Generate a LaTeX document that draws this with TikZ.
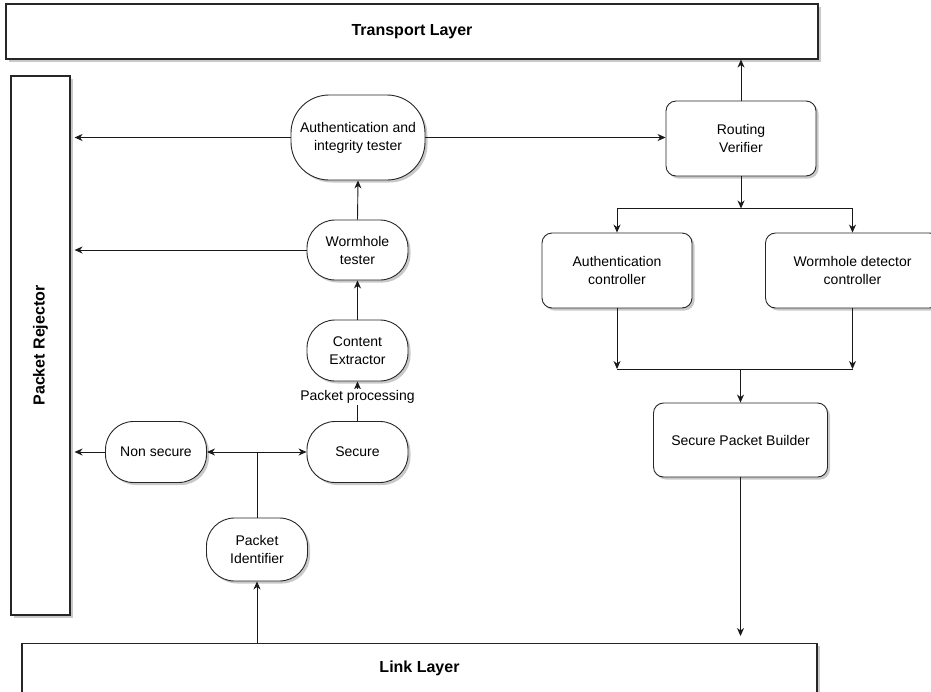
\documentclass[tikz,border=0pt]{standalone}
\usepackage{fontspec}
\setmainfont{Liberation Sans}
\usetikzlibrary{arrows.meta,shadows,calc}

\begin{document}
\begin{tikzpicture}[x=1pt,y=-1pt,
  font=\fontsize{14}{18}\selectfont,
  every node/.style={inner sep=0pt, align=center},
  dshadow/.style={drop shadow={shadow xshift=2.5pt, shadow yshift=-2.5pt, opacity=0.3, fill=black!70}},
  layer/.style={draw=black!85, line width=1.1pt, fill=white, dshadow},
  layertext/.style={font=\bfseries\fontsize{16}{19}\selectfont},
  pill/.style={draw=black!85, line width=0.9pt, fill=white, dshadow, rounded corners=#1},
  pill/.default=28pt,
  rbox/.style={draw=black!85, line width=0.9pt, fill=white, dshadow, rounded corners=10pt},
  conn/.style={draw=black!90, line width=0.9pt},
  arr/.style={conn, -{Stealth[length=8pt, width=7pt, inset=2.5pt]}},
]
\clip (0,0) rectangle (931,691);

% layers and rejector
\node[layer, minimum width=812pt, minimum height=55pt] (tl) at (412,31.5) {};
\node[layertext] (tltext) at (tl.center) {Transport Layer};
\node[layer, minimum width=59pt, minimum height=539pt] (pr) at (40.5,345.5) {};
\node[layertext, rotate=90] (prtext) at (pr.center) {Packet Rejector};
\node[layer, minimum width=795pt, minimum height=80pt, anchor=north] (ll) at (419.5,643) {};
\node[layertext] (lltext) at ($(ll.north)+(0,25)$) {Link Layer};

% receiving chain
\node[pill=38pt, minimum width=134pt, minimum height=85pt] (at) at (358,137.5) {Authentication and\\integrity tester};
\node[pill, minimum width=101pt, minimum height=60pt] (wt) at (357.5,250) {Wormhole\\tester};
\node[pill, minimum width=101pt, minimum height=61pt] (ce) at (357.5,350.5) {Content\\Extractor};
\node[pill, minimum width=101pt, minimum height=61pt] (sec) at (357.5,452) {Secure};
\node[pill, minimum width=101pt, minimum height=61pt] (ns) at (156,452) {Non secure};
\node[pill, minimum width=101pt, minimum height=63pt] (pi) at (257,549.5) {Packet\\Identifier};

% sending chain
\node[rbox, minimum width=150pt, minimum height=75pt] (rv) at (741,138.5) {Routing\\Verifier};
\node[rbox, minimum width=150pt, minimum height=75pt] (ac) at (617,270.5) {Authentication\\controller};
\node[rbox, minimum width=174pt, minimum height=75pt] (wdc) at (852.5,270.5) {Wormhole detector\\controller};
\node[rbox, minimum width=174pt, minimum height=74pt] (spb) at (740.5,440) {Secure Packet Builder};

% receiving connectors
\draw[arr] (ll.north -| pi.south) -- (pi.south);
\coordinate (pij) at (pi.north |- sec.west);
\draw[conn] (pi.north) -- (pij);
\draw[arr] (pij) -- (ns.east);
\draw[arr] (pij) -- (sec.west);
\draw[arr, shorten >=4pt] (ns.west) -- (ns.west -| pr.east);
\draw[arr] (sec.north) -- (ce.south) node[pos=0.6, fill=white, inner sep=1.5pt] (pp) {Packet processing};
\draw[arr] (ce.north) -- (wt.south);
\draw[arr] (wt.north) -- (at.south);
\draw[arr, shorten >=4pt] (wt.west) -- (wt.west -| pr.east);
\draw[arr, shorten >=4pt] (at.west) -- (at.west -| pr.east);
\draw[arr] (at.east) -- (at.east -| rv.west);

% sending connectors
\draw[arr] (rv.north) -- (rv.north |- tl.south);
\coordinate (rvj) at ($(rv.south)+(0,32)$);
\draw[arr] (rv.south) -- (rvj);
\draw[arr] (rvj) -| (ac.north);
\draw[arr] (rvj) -| (wdc.north);
\coordinate (acj) at (ac.south |- 0,369);
\coordinate (wdcj) at (wdc.south |- 0,369);
\coordinate (spbj) at (spb.north |- 0,369);
\draw[arr] (ac.south) -- (acj);
\draw[arr] (wdc.south) -- (wdcj);
\draw[conn] (acj) -- (wdcj);
\draw[arr] (spbj) -- (spb.north);
\draw[arr, shorten >=7pt] (spb.south) -- (spb.south |- ll.north);
\end{tikzpicture}
\end{document}
